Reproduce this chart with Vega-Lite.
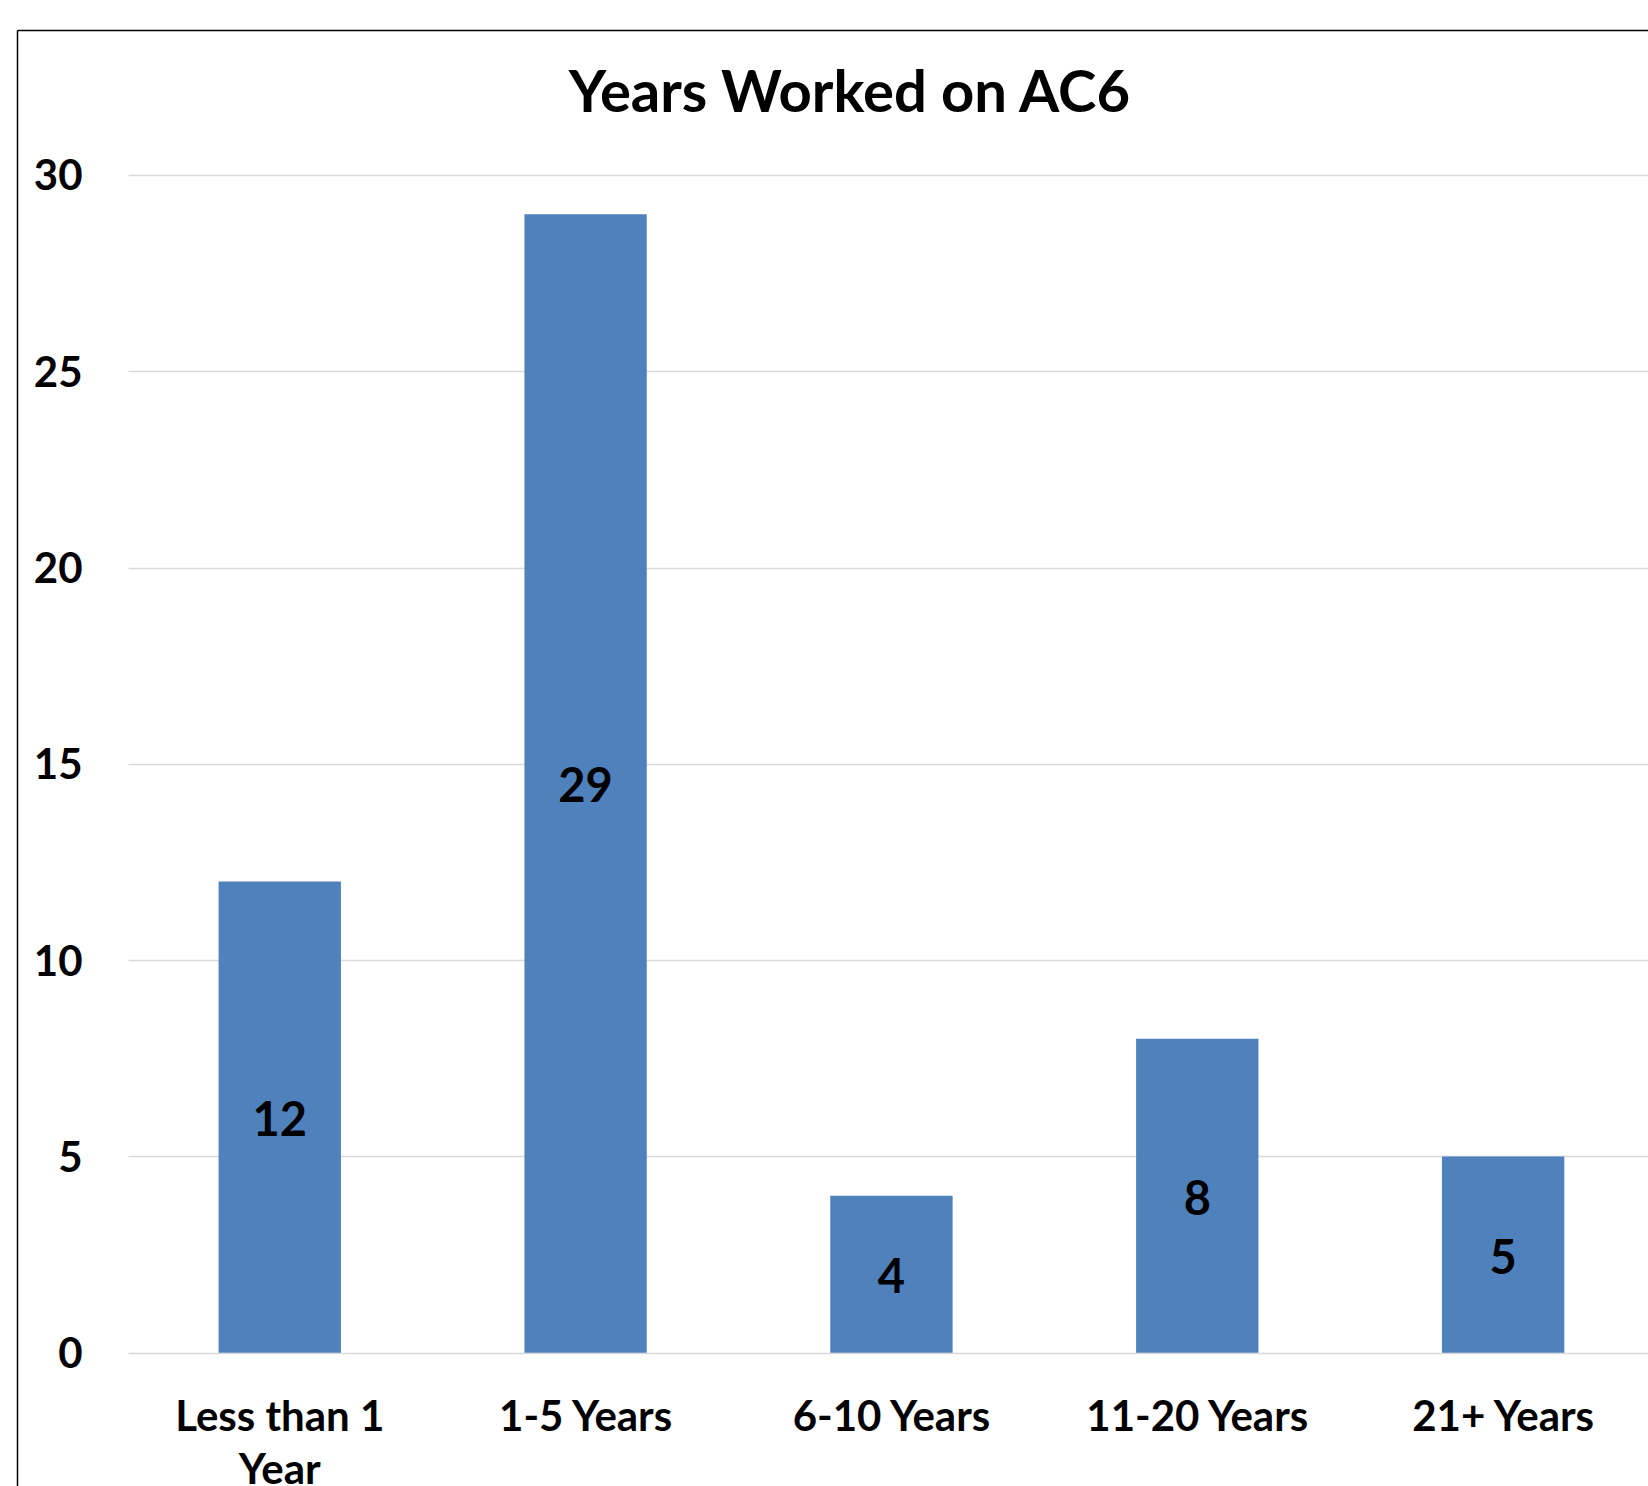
{
  "$schema": "https://vega.github.io/schema/vega-lite/v6.json",
  "autosize": {"type": "none"},
  "padding": {"left": 17, "top": 30, "right": 0, "bottom": 0},
  "width": 1631,
  "height": 1456,
  "background": "white",
  "title": {
    "text": "Years Worked on AC6",
    "font": "Lato",
    "fontSize": 58,
    "fontWeight": "bold",
    "color": "black",
    "anchor": "middle",
    "baseline": "alphabetic",
    "offset": -140,
    "dx": 17
  },
  "config": {"view": {"stroke": null}, "font": "Lato"},
  "data": {
    "values": [
      {"category": "Less than 1 Year", "count": 12},
      {"category": "1-5 Years", "count": 29},
      {"category": "6-10 Years", "count": 4},
      {"category": "11-20 Years", "count": 8},
      {"category": "21+ Years", "count": 5}
    ]
  },
  "layer": [
    {
      "mark": {"type": "bar", "color": "#4F81BD"},
      "encoding": {
        "x": {
          "field": "category",
          "type": "nominal",
          "sort": null,
          "scale": {"paddingInner": 0.6, "paddingOuter": 0.4664, "align": 0.7066, "round": false},
          "axis": {
            "orient": "bottom",
            "offset": -133.3,
            "domain": false,
            "ticks": false,
            "grid": false,
            "title": null,
            "labelAngle": 0,
            "labelPadding": 45,
            "labelFont": "Lato",
            "labelFontSize": 42,
            "labelFontWeight": "bold",
            "labelColor": "black",
            "labelLimit": 0,
            "labelOverlap": false,
            "labelLineHeight": 53,
            "labelExpr": "datum.value == 'Less than 1 Year' ? ['Less than 1', 'Year'] : datum.value"
          }
        },
        "y": {
          "field": "count",
          "type": "quantitative",
          "scale": {"domain": [-3.3956, 33.6936], "nice": false, "zero": false},
          "axis": {
            "orient": "left",
            "values": [0, 5, 10, 15, 20, 25, 30],
            "domain": true,
            "domainColor": "black",
            "domainWidth": 1.5,
            "ticks": false,
            "title": null,
            "labelPadding": -65,
            "labelOffset": 2,
            "labelFont": "Lato",
            "labelFontSize": 42,
            "labelFontWeight": "bold",
            "labelColor": "black",
            "labelOverlap": false,
            "labelFlush": false,
            "grid": true,
            "gridColor": "#D9D9D9",
            "gridWidth": 1.5,
            "gridDash": [0, 111, 3000, 0]
          }
        },
        "y2": {"datum": 0}
      }
    },
    {
      "mark": {"type": "text", "font": "Lato", "fontSize": 47, "fontWeight": "bold", "color": "black", "align": "center", "baseline": "middle", "dy": 5},
      "encoding": {
        "x": {
          "field": "category",
          "type": "nominal",
          "sort": null,
          "axis": {
            "orient": "top",
            "domain": true,
            "domainColor": "black",
            "domainWidth": 1.5,
            "labels": false,
            "ticks": false,
            "grid": false,
            "title": null
          }
        },
        "y": {
          "field": "count",
          "type": "quantitative",
          "scale": {"domain": [-6.7912, 67.3872], "nice": false, "zero": false},
          "axis": null
        },
        "text": {"field": "count", "type": "quantitative"}
      }
    }
  ],
  "resolve": {"scale": {"y": "independent"}, "axis": {"x": "independent"}}
}
